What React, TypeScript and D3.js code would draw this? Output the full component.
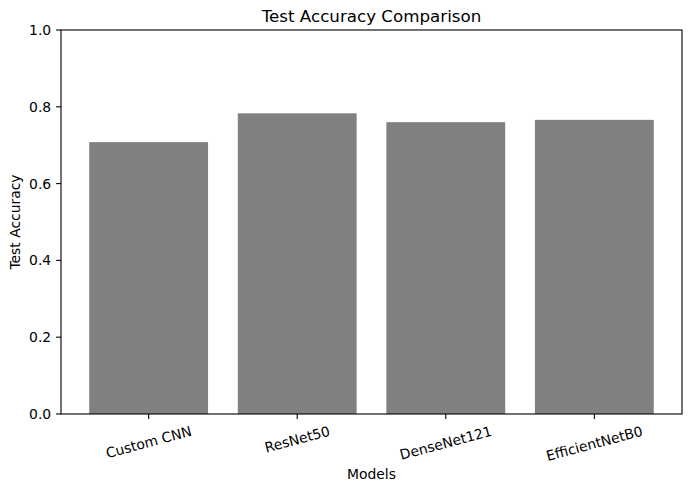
import React, { useEffect, useRef } from 'react';
import * as d3 from 'd3';

// Data
const models: string[] = ['Custom CNN', 'ResNet50', 'DenseNet121', 'EfficientNetB0'];
const accuracy: number[] = [0.708, 0.783, 0.760, 0.766];
const yTicks: number[] = [0.0, 0.2, 0.4, 0.6, 0.8, 1.0];

const App: React.FC = () => {
  const d3Container = useRef<SVGSVGElement | null>(null);

  useEffect(() => {
    if (!d3Container.current) return;
    const svg = d3.select(d3Container.current);
    svg.selectAll('*').remove();

    const W = 691;
    const H = 493;
    const margin = { top: 30, right: 9, bottom: 79, left: 61 };
    const font = 'DejaVu Sans, sans-serif';
    const fs = 13.9;
    const tickLen = 4.9;
    const pad = 4.9;

    svg.attr('width', W).attr('height', H);
    svg.append('rect').attr('width', W).attr('height', H).attr('fill', 'white');

    const x = d3.scaleBand<string>()
      .domain(models)
      .range([margin.left, W - margin.right])
      .paddingInner(0.2)
      .paddingOuter(0.19);

    const y = d3.scaleLinear()
      .domain([0, 1])
      .range([H - margin.bottom, margin.top]);

    // Bars
    svg.append('g')
      .selectAll('rect')
      .data(models)
      .enter()
      .append('rect')
      .attr('x', (d) => x(d) || 0)
      .attr('width', x.bandwidth())
      .attr('y', (_, i) => y(accuracy[i]))
      .attr('height', (_, i) => y(0) - y(accuracy[i]))
      .attr('fill', '#808080');

    // Spines
    const x0 = margin.left;
    const x1 = W - margin.right;
    const y0 = H - margin.bottom;
    const y1 = margin.top;
    svg.append('rect')
      .attr('x', x0)
      .attr('y', y1)
      .attr('width', x1 - x0)
      .attr('height', y0 - y1)
      .attr('fill', 'none')
      .attr('stroke', 'black')
      .attr('stroke-width', 1.1);

    // Y ticks
    const yg = svg.append('g');
    yTicks.forEach((t) => {
      yg.append('line')
        .attr('x1', x0 - tickLen).attr('x2', x0)
        .attr('y1', y(t)).attr('y2', y(t))
        .attr('stroke', 'black').attr('stroke-width', 1.1);
      yg.append('text')
        .attr('x', x0 - tickLen - pad)
        .attr('y', y(t))
        .attr('dy', '0.36em')
        .attr('text-anchor', 'end')
        .style('font-family', font)
        .style('font-size', `${fs}px`)
        .text(t.toFixed(1));
    });

    // X ticks with rotated labels
    const xg = svg.append('g');
    let maxBottom = 0;
    const rad = (15 * Math.PI) / 180;
    models.forEach((m) => {
      const cx = (x(m) || 0) + x.bandwidth() / 2;
      xg.append('line')
        .attr('x1', cx).attr('x2', cx)
        .attr('y1', y0).attr('y2', y0 + tickLen)
        .attr('stroke', 'black').attr('stroke-width', 1.1);
      const txt = xg.append('text')
        .attr('text-anchor', 'middle')
        .style('font-family', font)
        .style('font-size', `${fs}px`)
        .text(m);
      const w = (txt.node() as SVGTextElement).getComputedTextLength();
      const h = fs * 1.0;
      const boxH = w * Math.sin(rad) + h * Math.cos(rad);
      const top = y0 + tickLen + pad;
      const cy = top + boxH / 2;
      maxBottom = Math.max(maxBottom, top + boxH);
      txt.attr('transform', `translate(${cx},${cy}) rotate(-15)`)
        .attr('dy', '0.36em');
    });

    // Axis labels
    svg.append('text')
      .attr('x', (x0 + x1) / 2)
      .attr('y', maxBottom + 5.6 + fs * 0.76)
      .attr('text-anchor', 'middle')
      .style('font-family', font)
      .style('font-size', `${fs}px`)
      .text('Models');

    svg.append('text')
      .attr('transform', `translate(20,${(y0 + y1) / 2}) rotate(-90)`)
      .attr('text-anchor', 'middle')
      .style('font-family', font)
      .style('font-size', `${fs}px`)
      .text('Test Accuracy');

    // Title
    svg.append('text')
      .attr('x', (x0 + x1) / 2)
      .attr('y', y1 - 8.3)
      .attr('text-anchor', 'middle')
      .style('font-family', font)
      .style('font-size', '16.7px')
      .text('Test Accuracy Comparison');
  }, []);

  return (
    <div style={{ position: 'absolute', left: 0, top: 0 }}>
      <svg ref={d3Container} style={{ display: 'block' }}></svg>
    </div>
  );
};

export default App;
